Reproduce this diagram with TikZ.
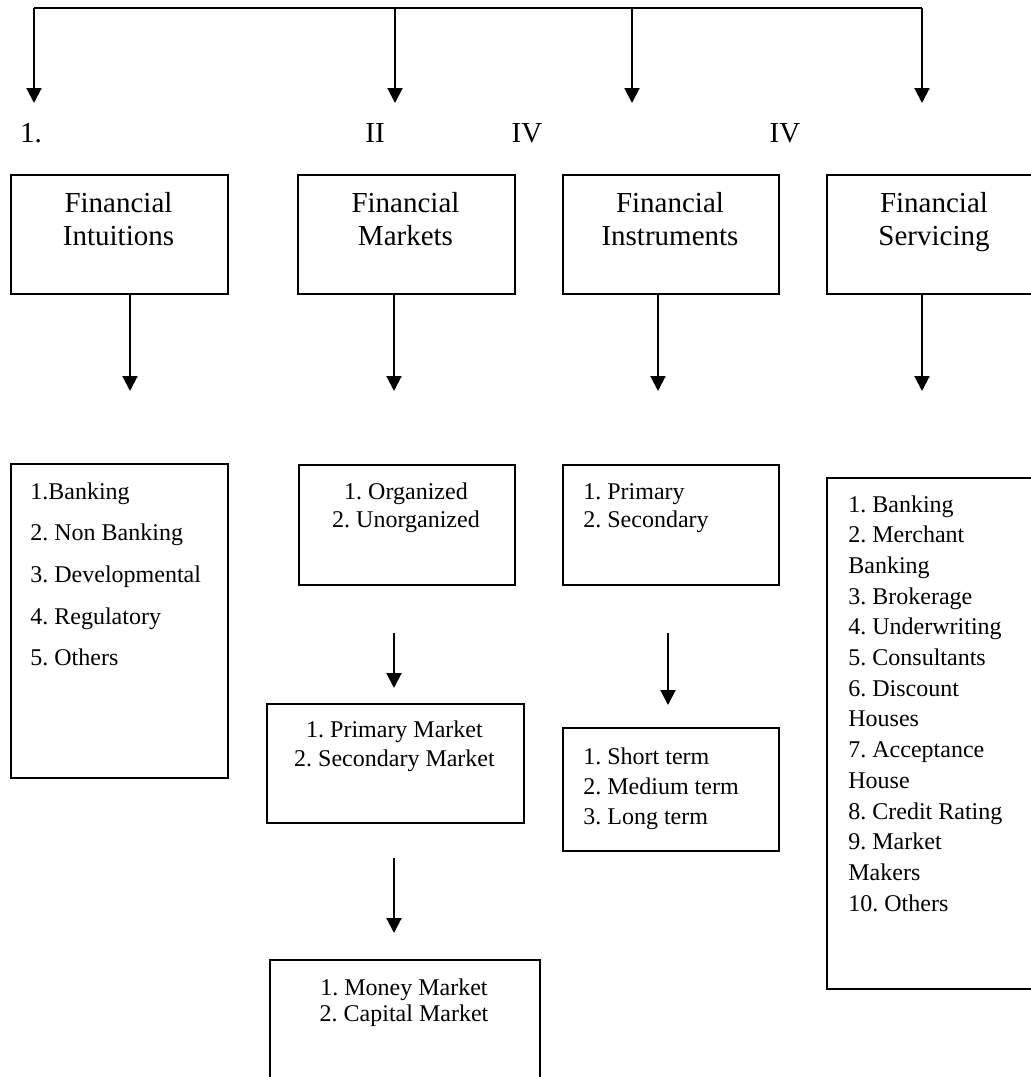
\documentclass[tikz,border=0pt]{standalone}
\usepackage{fontspec}
\setmainfont{Liberation Serif}
\usetikzlibrary{arrows.meta}
\frenchspacing
\begin{document}
\begin{tikzpicture}[x=0.5pt,y=-0.5pt,
  box/.style={draw,line width=1pt,inner sep=0pt,anchor=north west},
  head/.style={inner sep=0pt,anchor=north,align=center,font=\fontsize{14.5}{16.5}\selectfont},
  lbl/.style={inner sep=0pt,anchor=center,font=\fontsize{14.5}{16.5}\selectfont},
  arr/.style={line width=1pt,-{Triangle[length=7.5pt,width=7.5pt]}},
  conn/.style={line width=1pt}]
\fill[white] (0,0) rectangle (1031,1077);
\useasboundingbox (0,0) rectangle (1031,1077);
\clip (0,0) rectangle (1031,1077);

% top distribution line
\coordinate (t1) at (34,8);
\coordinate (t2) at (395,8);
\coordinate (t3) at (632,8);
\coordinate (t4) at (922,8);
\coordinate (a1) at (34,103);
\coordinate (a2) at (395,103);
\coordinate (a3) at (632,103);
\coordinate (a4) at (922,103);
\draw[conn] (t1) -- (t4);
\draw[arr] (t1) -- (a1);
\draw[arr] (t2) -- (a2);
\draw[arr] (t3) -- (a3);
\draw[arr] (t4) -- (a4);

% labels
\node[lbl] (l1) at (31,133) {1.};
\node[lbl] (l2) at (375,133) {II};
\node[lbl] (l3) at (527,133) {IV};
\node[lbl] (l4) at (785,133) {IV};

% header boxes
\node[box,minimum width=108.5pt,minimum height=59.5pt] (b1) at (10,174) {};
\node[box,minimum width=108.5pt,minimum height=59.5pt] (b2) at (297,174) {};
\node[box,minimum width=108pt,minimum height=59.5pt] (b3) at (562,174) {};
\node[box,minimum width=108pt,minimum height=59.5pt] (b4) at (826,174) {};
\node[head] (h1) at (118.5,192) {Financial\\Intuitions};
\node[head] (h2) at (405.5,192) {Financial\\Markets};
\node[head] (h3) at (670,192) {Financial\\Instruments};
\node[head] (h4) at (934,192) {Financial\\Servicing};

% arrows below header boxes
\coordinate (d1) at (130,391);
\coordinate (d2) at (394,391);
\coordinate (d3) at (658,391);
\coordinate (d4) at (922,391);
\draw[arr] (b1.south -| d1) -- (d1);
\draw[arr] (b2.south -| d2) -- (d2);
\draw[arr] (b3.south -| d3) -- (d3);
\draw[arr] (b4.south -| d4) -- (d4);

% column 1
\node[box,minimum width=108.5pt,minimum height=157pt] (L1) at (10,463) {};
\node[inner sep=0pt,anchor=north west,align=left,font=\fontsize{12}{20.85}\selectfont] (L1t) at (30,482)
  {1.Banking\\2. Non Banking\\3. Developmental\\4. Regulatory\\5. Others};

% column 2
\node[box,minimum width=108pt,minimum height=60pt] (M1) at (298,464) {};
\node[inner sep=0pt,anchor=north,align=center,font=\fontsize{12}{14}\selectfont] (M1t) at (406,482)
  {1. Organized\\2. Unorganized};
\coordinate (m1s) at (394,633);
\coordinate (m1e) at (394,688);
\draw[arr] (m1s) -- (m1e);
\node[box,minimum width=128.5pt,minimum height=59.5pt] (M2) at (266,703) {};
\node[inner sep=0pt,anchor=north,align=center,font=\fontsize{12}{14.5}\selectfont] (M2t) at (394.5,720)
  {1. Primary Market\\2. Secondary Market};
\coordinate (m2s) at (394,858);
\coordinate (m2e) at (394,933);
\draw[arr] (m2s) -- (m2e);
\node[box,minimum width=135pt,minimum height=70.5pt] (M3) at (269,959) {};
\node[inner sep=0pt,anchor=north,align=center,font=\fontsize{12}{13.3}\selectfont] (M3t) at (404,978)
  {1. Money Market\\2. Capital Market};

% column 3
\node[box,minimum width=108pt,minimum height=60pt] (I1) at (562,464) {};
\node[inner sep=0pt,anchor=north west,align=left,font=\fontsize{12}{14}\selectfont] (I1t) at (583,483)
  {1. Primary\\2. Secondary};
\coordinate (i1s) at (668,633);
\coordinate (i1e) at (668,705);
\draw[arr] (i1s) -- (i1e);
\node[box,minimum width=108pt,minimum height=61.5pt] (I2) at (562,727) {};
\node[inner sep=0pt,anchor=north west,align=left,font=\fontsize{12}{15}\selectfont] (I2t) at (583,747)
  {1. Short term\\2. Medium term\\3. Long term};

% column 4
\node[box,minimum width=117pt,minimum height=255.5pt] (S) at (826,477) {};
\node[inner sep=0pt,anchor=north west,align=left,font=\fontsize{12}{15.35}\selectfont] (St) at (848,495)
  {1. Banking\\2. Merchant\\Banking\\3. Brokerage\\4. Underwriting\\5. Consultants\\6. Discount\\Houses\\7. Acceptance\\House\\8. Credit Rating\\9. Market\\Makers\\10. Others};
\end{tikzpicture}
\end{document}
